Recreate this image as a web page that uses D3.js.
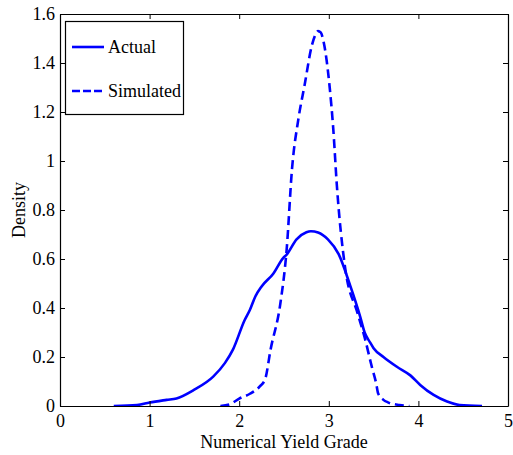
<!DOCTYPE html>
<html>
<head>
<meta charset="utf-8">
<script src="https://cdn.jsdelivr.net/npm/d3@7"></script>
<style>
  body { margin: 0; background: #fff; }
  text { font-family: "Liberation Serif", "Times New Roman", serif; }
</style>
</head>
<body>
<div id="chart"></div>
<script>
// data
const actualX = [0.60, 0.86, 1.00, 1.19, 1.30, 1.49, 1.71, 1.84, 1.93, 2.06, 2.12, 2.18, 2.25, 2.38, 2.49, 2.53, 2.64, 2.75, 2.80, 2.88, 2.99, 3.11, 3.24, 3.35, 3.40, 3.46, 3.50, 3.61, 3.76, 3.91, 4.02, 4.17, 4.32, 4.46, 4.71];
const actualY = [0, 0.004, 0.014, 0.025, 0.031, 0.065, 0.12, 0.175, 0.23, 0.35, 0.393, 0.447, 0.488, 0.54, 0.604, 0.618, 0.68, 0.709, 0.713, 0.708, 0.68, 0.62, 0.49, 0.365, 0.30, 0.26, 0.236, 0.20, 0.16, 0.125, 0.086, 0.045, 0.018, 0.004, 0];

const simX = [1.79, 1.90, 2.00, 2.12, 2.23, 2.29, 2.35, 2.46, 2.53, 2.59, 2.66, 2.73, 2.81, 2.85, 2.88, 2.91, 2.94, 3.01, 3.05, 3.09, 3.18, 3.32, 3.40, 3.48, 3.53, 3.55, 3.61, 3.66, 3.79, 3.90];
const simY = [0, 0.008, 0.03, 0.05, 0.08, 0.11, 0.23, 0.42, 0.64, 0.97, 1.17, 1.31, 1.47, 1.515, 1.53, 1.525, 1.49, 1.30, 1.13, 0.90, 0.57, 0.38, 0.28, 0.16, 0.09, 0.052, 0.025, 0.015, 0.004, 0];

const xTicks = [0, 1, 2, 3, 4, 5];
const yTicks = [0, 0.2, 0.4, 0.6, 0.8, 1, 1.2, 1.4, 1.6];
const seriesNames = ["Actual", "Simulated"];

const W = 513, H = 455;
const margin = { top: 14, right: 5, bottom: 49, left: 60 };
const w = W - margin.left - margin.right;
const h = H - margin.top - margin.bottom;

const svg = d3.select("#chart").append("svg")
  .attr("width", W)
  .attr("height", H);

const g = svg.append("g")
  .attr("transform", "translate(" + margin.left + "," + margin.top + ")");

const x = d3.scaleLinear().domain([0, 5]).range([0, w]);
const y = d3.scaleLinear().domain([0, 1.6]).range([h, 0]);

// clip so curves stay in the box
g.append("clipPath").attr("id", "clip")
  .append("rect").attr("width", w).attr("height", h);

const line = d3.line()
  .x(d => x(d[0]))
  .y(d => y(d[1]))
  .curve(d3.curveMonotoneX);

const actual = actualX.map((v, i) => [v, actualY[i]]);
const simulated = simX.map((v, i) => [v, simY[i]]);

g.append("path")
  .datum(actual)
  .attr("clip-path", "url(#clip)")
  .attr("fill", "none")
  .attr("stroke", "#0000ff")
  .attr("stroke-width", 2.6)
  .attr("stroke-linejoin", "round")
  .attr("d", line);

g.append("path")
  .datum(simulated)
  .attr("clip-path", "url(#clip)")
  .attr("fill", "none")
  .attr("stroke", "#0000ff")
  .attr("stroke-width", 2.6)
  .attr("stroke-dasharray", "9,5")
  .attr("d", line);

// axes, ticks pointing inward like matlab
function styleAxis(sel) {
  sel.attr("font-family", null).attr("font-size", null);
  sel.selectAll("path").attr("stroke", "#000").attr("stroke-width", 1.2);
  sel.selectAll("line").attr("stroke", "#000");
  sel.selectAll("text").attr("fill", "#000").style("font-size", "18px");
}

g.append("g")
  .attr("transform", "translate(0," + h + ")")
  .call(d3.axisBottom(x).tickValues(xTicks).tickSizeInner(-5).tickSizeOuter(0).tickPadding(8).tickFormat(String))
  .call(styleAxis);

g.append("g")
  .call(d3.axisLeft(y).tickValues(yTicks).tickSizeInner(-5).tickSizeOuter(0).tickPadding(5).tickFormat(String))
  .call(styleAxis);

g.append("g")
  .call(d3.axisTop(x).tickValues(xTicks).tickSizeInner(-5).tickSizeOuter(0).tickFormat(""))
  .call(styleAxis);

g.append("g")
  .attr("transform", "translate(" + w + ",0)")
  .call(d3.axisRight(y).tickValues(yTicks).tickSizeInner(-5).tickSizeOuter(0).tickFormat(""))
  .call(styleAxis);

// labels
svg.append("text")
  .attr("x", margin.left + w / 2)
  .attr("y", 448)
  .attr("text-anchor", "middle")
  .style("font-size", "18px")
  .text("Numerical Yield Grade");

svg.append("text")
  .attr("transform", "translate(25," + (margin.top + h / 2) + ") rotate(-90)")
  .attr("text-anchor", "middle")
  .style("font-size", "18px")
  .text("Density");

// legend
const legend = svg.append("g");
legend.append("rect")
  .attr("x", 65.5).attr("y", 21.5)
  .attr("width", 118).attr("height", 93)
  .attr("fill", "#fff")
  .attr("stroke", "#000")
  .attr("stroke-width", 1.2);

seriesNames.forEach(function (name, i) {
  const ly = 47 + i * 44;
  legend.append("line")
    .attr("x1", 72).attr("x2", 104)
    .attr("y1", ly).attr("y2", ly)
    .attr("stroke", "#0000ff")
    .attr("stroke-width", 2.6)
    .attr("stroke-dasharray", i === 1 ? "8,3" : null);
  legend.append("text")
    .attr("x", 108)
    .attr("y", ly + 6)
    .style("font-size", "18px")
    .text(name);
});
</script>
</body>
</html>
